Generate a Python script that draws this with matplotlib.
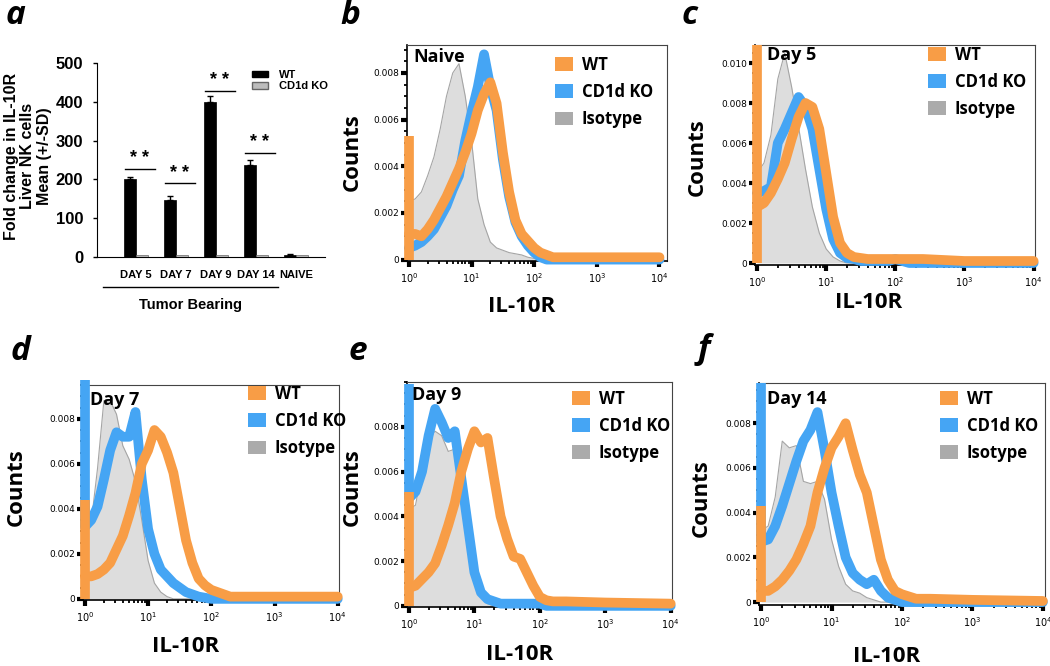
import numpy as np
import matplotlib
matplotlib.use("Agg")
import matplotlib.pyplot as plt
from matplotlib.patches import Patch
from matplotlib.ticker import LogLocator, MultipleLocator, NullFormatter, FuncFormatter
import matplotlib.transforms as mtransforms

# ---------------- panel a: fold change in IL-10R ----------------
days = ["DAY 5", "DAY 7", "DAY 9", "DAY 14", "NAIVE"]
wt_fold = [200, 148, 400, 238, 5]
wt_sd = [7, 10, 14, 12, 2]
ko_fold = [4, 4, 4, 4, 4]
sig_height = [227, 190, 428, 268]  # "**" over the tumour bearing days

# ---------------- panels b-f: IL-10R histograms ----------------
# bin centres, log10(IL-10R)
chan_log = [0.0, 0.1, 0.2, 0.3, 0.4, 0.5, 0.6, 0.7, 0.8, 0.9,
            1.0, 1.1, 1.2, 1.3, 1.4, 1.5, 1.6, 1.7, 1.8, 1.9,
            2.0, 2.1, 2.2, 2.3, 2.4, 3.0, 4.0]

naive_iso = [.0025, .0026, .0029, .0036, .0044, .0056, .0070, .0080, .0084, .0070,
             .0051, .0026, .0015, .00075, .0005, .0004, .0003, .00025, .0002, .0001,
             .00005, 0, 0, 0, 0, 0, 0]
naive_ko = [.0005, .0006, .00075, .001, .0013, .0018, .0023, .0030, .0036, .0051,
            .0063, .0074, .0088, .0074, .0064, .0043, .0027, .0016, .0010, .0006,
            .0003, .0001, 0, 0, 0, 0, 0]
naive_wt = [.0011, .0011, .0010, .0013, .0017, .0022, .0027, .0033, .0039, .0046,
            .0054, .0064, .0071, .0076, .0067, .0046, .0029, .0017, .0011, .0008,
            .0005, .0003, .0002, .0001, .0001, .0001, .0001]

day5_iso = [.0045, .0050, .0064, .0092, .0105, .0088, .0068, .0047, .0028, .0015,
            .0007, .0003, .0001, 0, 0, 0, 0, 0, 0, 0,
            0, 0, 0, 0, 0, 0, 0]
day5_ko = [.0035, .0036, .0038, .0060, .0067, .0075, .0083, .0078, .0067, .0047,
           .0027, .0012, .0005, .00025, .0002, .0001, .0001, .0001, .0001, .0001,
           .0002, .0001, 0, 0, 0, 0, 0]
day5_wt = [.0028, .0030, .0035, .0042, .0050, .0062, .0073, .0080, .0078, .0067,
           .0045, .0023, .0010, .0005, .0003, .00025, .0002, .0002, .0002, .0002,
           .0002, .0002, .0002, .0002, .0002, .0001, .0001]

day7_iso = [.0027, .0034, .0058, .0088, .0088, .0082, .0068, .0062, .0052, .0035,
            .0017, .0007, .0003, .0001, 0, 0, 0, 0, 0, 0,
            0, 0, 0, 0, 0, 0, 0]
day7_ko = [.0032, .0035, .0041, .0053, .0066, .0074, .0072, .0072, .0083, .0053,
           .0031, .0020, .0013, .0010, .0007, .0005, .0003, .0002, .0001, .00005,
           0, 0, 0, 0, 0, 0, 0]
day7_wt = [.0010, .0010, .0011, .0013, .0016, .0022, .0028, .0037, .0047, .0060,
           .0066, .0075, .0072, .0065, .0056, .0041, .0026, .0016, .0009, .0006,
           .0004, .0003, .0002, .0001, .0001, .0001, .0001]

day9_iso = [.0043, .0045, .0060, .0075, .0078, .0076, .0069, .0070, .0052, .0027,
            .0012, .0004, .0001, 0, 0, 0, 0, 0, 0, 0,
            0, 0, 0, 0, 0, 0, 0]
day9_ko = [.0048, .0051, .0060, .0076, .0088, .0082, .0075, .0078, .0057, .0036,
           .0015, .0006, .0003, .0002, .0001, .0001, .0001, .0001, .0001, .0001,
           .0001, 0, 0, 0, 0, 0, 0]
day9_wt = [.0008, .0009, .0012, .0015, .0019, .0027, .0036, .0046, .0060, .0070,
           .0078, .0073, .0075, .0057, .0040, .0030, .0022, .0021, .0015, .0009,
           .0004, .00025, .0002, .0002, .0002, .00015, .0001]

day14_iso = [.0032, .0034, .0047, .0072, .0069, .0070, .0054, .0053, .0054, .0046,
             .0028, .0016, .0008, .0005, .0004, .0002, .0001, 0, 0, 0,
             0, 0, 0, 0, 0, 0, 0]
day14_ko = [.0027, .0028, .0034, .0043, .0053, .0063, .0072, .0077, .0085, .0068,
            .0049, .0034, .0020, .0013, .0010, .0008, .0010, .0005, .0002, .0001,
            0, 0, 0, 0, 0, 0, 0]
day14_wt = [.0005, .0005, .0007, .0010, .0014, .0019, .0026, .0034, .0049, .0060,
            .0069, .0074, .0080, .0068, .0057, .0049, .0034, .0019, .0010, .0005,
            .00035, .00025, .00015, .00015, .00015, .0001, .00005]

# height of the lowest (piled-up) channel
first_bin_wt = [0.0053, 0.0109, 0.0044, 0.0051, 0.0043]
first_bin_ko = [0.0, 0.0, 0.0097, 0.0099, 0.0098]

hist_titles = ["Naive", "Day 5", "Day 7", "Day 9", "Day 14"]
hist_iso = [naive_iso, day5_iso, day7_iso, day9_iso, day14_iso]
hist_ko = [naive_ko, day5_ko, day7_ko, day9_ko, day14_ko]
hist_wt = [naive_wt, day5_wt, day7_wt, day9_wt, day14_wt]
series_names = ["WT", "CD1d KO", "Isotype"]

ORANGE = "#F89D46"
BLUE = "#45A5F4"
GREY_FILL = "#DDDDDD"
GREY_LINE = "#A5A5A5"
GREY_PATCH = "#ABABAB"

W, H = 1050, 666
fig = plt.figure(figsize=(W / 100, H / 100), dpi=100)


def px_box(left, top, right, bottom):
    return [left / W, 1 - bottom / H, (right - left) / W, (bottom - top) / H]


# ---------------- panel a ----------------
BAR_FONT = "Liberation Sans"
ax = fig.add_axes(px_box(97, 63, 325, 257))
x = np.arange(len(days))
bw = 0.29
ax.bar(x - bw / 2, wt_fold, bw, color="black", edgecolor="black", lw=0.5,
       yerr=[np.zeros(len(wt_sd)), wt_sd], error_kw=dict(ecolor="black", capsize=2.5, elinewidth=1, capthick=1))
ax.bar(x + bw / 2, ko_fold, bw, color="#BDBDBD", edgecolor="#666666", lw=0.5)
for i, h in enumerate(sig_height):
    ax.plot([i - 0.28, i + 0.47], [h, h], color="black", lw=1)
    ax.text(i + 0.1, h + 4, "* *", ha="center", va="bottom", fontsize=13,
            fontweight="bold", family=BAR_FONT)
ax.set_xlim(-0.975, 4.725)
ax.set_ylim(0, 500)
ax.set_yticks([0, 100, 200, 300, 400, 500])
ax.set_xticks(x)
ax.set_xticklabels(days)
for sp in ("top", "right"):
    ax.spines[sp].set_visible(False)
ax.tick_params(axis="x", length=0, pad=9)
ax.tick_params(axis="y", length=3, width=1, pad=7)
for lab in ax.get_xticklabels():
    lab.set_fontsize(8)
    lab.set_fontweight("bold")
    lab.set_family(BAR_FONT)
for lab in ax.get_yticklabels():
    lab.set_fontsize(12)
    lab.set_fontweight("bold")
    lab.set_family(BAR_FONT)
trans = mtransforms.blended_transform_factory(ax.transData, ax.transAxes)
ax.plot([-0.825, 3.55], [-0.155, -0.155], color="black", lw=1, transform=trans, clip_on=False)
ax.text(1.36, -0.25, "Tumor Bearing", transform=trans, ha="center", va="center",
        fontsize=10.5, fontweight="bold", family=BAR_FONT)
leg = ax.legend(handles=[Patch(facecolor="black", edgecolor="black"),
                         Patch(facecolor="#BDBDBD", edgecolor="#666666")],
                labels=["WT", "CD1d KO"], loc="upper left", bbox_to_anchor=(0.68, 0.965),
                frameon=False, borderpad=0, borderaxespad=0, handlelength=1.4,
                handleheight=0.55, handletextpad=1.0, labelspacing=0.15,
                prop=dict(family=BAR_FONT, weight="bold", size=8))
fig.text(28 / W, 1 - 156 / H, "Fold change in IL-10R\nLiver NK cells\nMean (+/-SD)",
         rotation=90, ha="center", va="center", multialignment="center",
         fontsize=11.5, fontweight="bold", family=BAR_FONT, linespacing=1.12)

# ---------------- panels b-f ----------------
LAB_FONT = ["Open Sans", "DejaVu Sans"]
hist_boxes = [(407, 45, 667, 261), (755, 45, 1035, 265), (83, 385, 339, 600),
              (407, 382, 672, 607), (759, 383, 1045, 605)]
hist_xmax = [4.12, 4.02, 4.02, 4.02, 4.03]
hist_ylim = [(-0.00006, 0.0092), (-0.0001, 0.0109), (-0.00005, 0.0095),
             (-0.00005, 0.0100), (-0.00013, 0.0098)]
hist_ymax_tick = [0.008, 0.010, 0.008, 0.008, 0.008]
counts_pos = [(352, 152), (697, 157), (16, 487), (352, 487), (701, 498)]
il10r_pos = [(522, 306), (869, 303), (186, 646), (520, 655), (887, 657)]
legend_anchor = [(555, 58), (928, 48), (248, 387), (572, 392), (940, 392)]
title_pos = [(413, 48), (767, 46), (90, 391), (412, 386), (767, 390)]

xs = 10 ** np.array(chan_log)
LW = 7

for k in range(5):
    l, t, r, b = hist_boxes[k]
    ax = fig.add_axes(px_box(l, t, r, b))
    ax.set_xscale("log")
    ax.set_xlim(10 ** -0.03, 10 ** hist_xmax[k])
    ax.set_ylim(*hist_ylim[k])

    ax.fill_between(xs, hist_iso[k], 0, color=GREY_FILL, lw=0, zorder=1)
    ax.plot(xs, hist_iso[k], color=GREY_LINE, lw=0.8, zorder=2)
    line_kw = dict(lw=LW, solid_capstyle="round", solid_joinstyle="round", clip_on=False)
    ax.plot(xs, hist_ko[k], color=BLUE, zorder=3, **line_kw)
    if first_bin_ko[k] > 0:
        ax.plot([xs[0], xs[0]], [hist_ko[k][0], first_bin_ko[k]], color=BLUE, zorder=3,
                lw=LW, solid_capstyle="butt", clip_on=False)
    ax.plot(xs, hist_wt[k], color=ORANGE, zorder=4, **line_kw)
    ax.plot([xs[0], xs[0]], [0, first_bin_wt[k]], color=ORANGE, zorder=4,
            lw=LW, solid_capstyle="butt", clip_on=False)

    ax.xaxis.set_major_locator(LogLocator(base=10, numticks=10))
    ax.xaxis.set_minor_locator(LogLocator(base=10, subs=np.arange(2, 10), numticks=20))
    ax.xaxis.set_minor_formatter(NullFormatter())
    ax.set_yticks(np.arange(0, hist_ymax_tick[k] + 1e-6, 0.002))
    ax.yaxis.set_minor_locator(MultipleLocator(0.0005))
    ax.yaxis.set_major_formatter(FuncFormatter(lambda v, p: "0" if abs(v) < 1e-9 else f"{v:.3f}"))
    ax.tick_params(which="major", length=4, width=3, direction="out", labelsize=6.5, pad=1.5)
    ax.tick_params(which="minor", length=2, width=1.3, direction="out")
    ax.tick_params(axis="x", which="major", labelsize=7, pad=3)
    for sp in ("left", "bottom"):
        ax.spines[sp].set_linewidth(1.2)
    for sp in ("top", "right"):
        ax.spines[sp].set_linewidth(0.8)
        ax.spines[sp].set_color("#444444")

    ax.text((title_pos[k][0] - l) / (r - l), (b - title_pos[k][1]) / (b - t), hist_titles[k],
            transform=ax.transAxes, ha="left", va="top", fontsize=13, fontweight="bold",
            family=LAB_FONT, zorder=6)

    lx, ly = legend_anchor[k]
    ax.legend(handles=[Patch(facecolor=ORANGE, edgecolor="none"),
                       Patch(facecolor=BLUE, edgecolor="none"),
                       Patch(facecolor=GREY_PATCH, edgecolor="none")],
              labels=series_names, loc="upper left",
              bbox_to_anchor=((lx - l) / (r - l), (b - ly) / (b - t) + 0.01),
              frameon=False, borderpad=0, borderaxespad=0, handlelength=1.05,
              handleheight=0.9, handletextpad=0.55, labelspacing=0.55,
              prop=dict(family="Open Sans", weight="bold", size=12))

    fig.text(counts_pos[k][0] / W, 1 - counts_pos[k][1] / H, "Counts", rotation=90,
             ha="center", va="center", fontsize=16, fontweight="bold", family=LAB_FONT)
    fig.text(il10r_pos[k][0] / W, 1 - il10r_pos[k][1] / H, "IL-10R",
             ha="center", va="center", fontsize=16, fontweight="bold", family=LAB_FONT)

# panel letters
letter_pos = {"a": (15, 16), "b": (350, 16), "c": (690, 16),
              "d": (20, 352), "e": (358, 352), "f": (704, 350)}
for letter, (px, py) in letter_pos.items():
    fig.text(px / W, 1 - py / H, letter, ha="center", va="center", fontsize=24,
             fontweight="bold", style="italic", family=LAB_FONT)

fig.savefig("out.png", dpi=100)
